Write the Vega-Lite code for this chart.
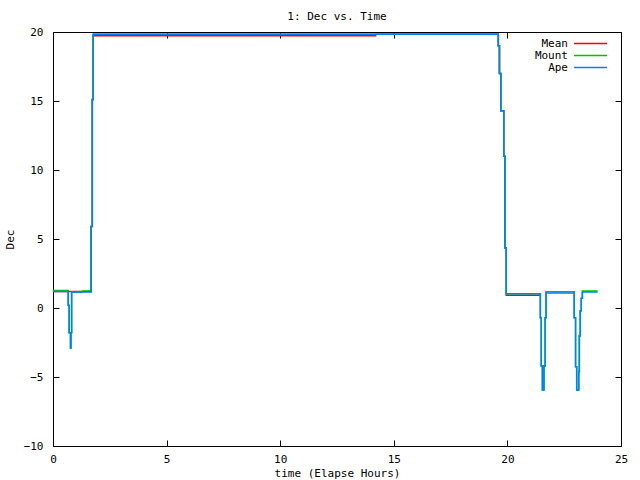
{
  "$schema": "https://vega.github.io/schema/vega-lite/v6.json",
  "width": 568,
  "height": 414,
  "autosize": {"type": "none"},
  "padding": {"left": 53, "top": 32, "right": 19, "bottom": 34},
  "background": "white",
  "title": {"text": "1: Dec vs. Time", "font": "DejaVu Sans Mono", "fontSize": 11, "fontWeight": "normal", "offset": 4, "color": "black"},
  "config": {
    "view": {"stroke": null},
    "axis": {"grid": false, "domainColor": "black", "domainWidth": 1, "tickColor": "black", "tickSize": -6, "labelFont": "DejaVu Sans Mono", "labelFontSize": 11, "labelColor": "black", "titleFont": "DejaVu Sans Mono", "titleFontSize": 11, "titleFontWeight": "normal", "titleColor": "black", "labelFlush": false, "labelOverlap": false}
  },
  "data": {
    "values": [
      {"series": "Mean", "t": 0, "dec": 1.19},
      {"series": "Mean", "t": 1.68, "dec": 5.9},
      {"series": "Mean", "t": 1.73, "dec": 15.1},
      {"series": "Mean", "t": 1.77, "dec": 19.72},
      {"series": "Mean", "t": 14.2, "dec": 19.83},
      {"series": "Mean", "t": 19.6, "dec": 19.0},
      {"series": "Mean", "t": 19.65, "dec": 17.0},
      {"series": "Mean", "t": 19.71, "dec": 14.3},
      {"series": "Mean", "t": 19.84, "dec": 11.0},
      {"series": "Mean", "t": 19.89, "dec": 4.35},
      {"series": "Mean", "t": 19.95, "dec": 0.93},
      {"series": "Mean", "t": 21.45, "dec": 0.93},
      {"series": "Mount", "t": 0, "dec": 1.27},
      {"series": "Mount", "t": 0.67, "dec": 0.2},
      {"series": "Mount", "t": 0.71, "dec": -1.8},
      {"series": "Mount", "t": 0.77, "dec": -2.9},
      {"series": "Mount", "t": 0.79, "dec": -1.8},
      {"series": "Mount", "t": 0.82, "dec": 1.16},
      {"series": "Mount", "t": 1.29, "dec": 1.24},
      {"series": "Mount", "t": 1.68, "dec": 5.9},
      {"series": "Mount", "t": 1.73, "dec": 15.1},
      {"series": "Mount", "t": 1.77, "dec": 19.83},
      {"series": "Mount", "t": 19.6, "dec": 19.0},
      {"series": "Mount", "t": 19.65, "dec": 17.0},
      {"series": "Mount", "t": 19.71, "dec": 14.3},
      {"series": "Mount", "t": 19.84, "dec": 11.0},
      {"series": "Mount", "t": 19.89, "dec": 4.35},
      {"series": "Mount", "t": 19.95, "dec": 1.04},
      {"series": "Mount", "t": 21.45, "dec": -0.7},
      {"series": "Mount", "t": 21.49, "dec": -4.2},
      {"series": "Mount", "t": 21.54, "dec": -5.94},
      {"series": "Mount", "t": 21.61, "dec": -4.2},
      {"series": "Mount", "t": 21.66, "dec": -0.7},
      {"series": "Mount", "t": 21.7, "dec": 1.17},
      {"series": "Mount", "t": 22.94, "dec": -0.7},
      {"series": "Mount", "t": 23.0, "dec": -4.25},
      {"series": "Mount", "t": 23.05, "dec": -5.94},
      {"series": "Mount", "t": 23.14, "dec": -4.6},
      {"series": "Mount", "t": 23.16, "dec": -2.0},
      {"series": "Mount", "t": 23.2, "dec": -0.2},
      {"series": "Mount", "t": 23.25, "dec": 0.7},
      {"series": "Mount", "t": 23.3, "dec": 1.24},
      {"series": "Mount", "t": 23.97, "dec": 1.24},
      {"series": "Ape", "t": 0, "dec": 1.19},
      {"series": "Ape", "t": 0.67, "dec": 0.2},
      {"series": "Ape", "t": 0.71, "dec": -1.8},
      {"series": "Ape", "t": 0.77, "dec": -2.9},
      {"series": "Ape", "t": 0.79, "dec": -1.8},
      {"series": "Ape", "t": 0.82, "dec": 1.16},
      {"series": "Ape", "t": 1.29, "dec": 1.16},
      {"series": "Ape", "t": 1.68, "dec": 5.9},
      {"series": "Ape", "t": 1.73, "dec": 15.1},
      {"series": "Ape", "t": 1.77, "dec": 19.83},
      {"series": "Ape", "t": 19.6, "dec": 19.0},
      {"series": "Ape", "t": 19.65, "dec": 17.0},
      {"series": "Ape", "t": 19.71, "dec": 14.3},
      {"series": "Ape", "t": 19.84, "dec": 11.0},
      {"series": "Ape", "t": 19.89, "dec": 4.35},
      {"series": "Ape", "t": 19.95, "dec": 1.04},
      {"series": "Ape", "t": 21.45, "dec": -0.7},
      {"series": "Ape", "t": 21.49, "dec": -4.2},
      {"series": "Ape", "t": 21.54, "dec": -5.94},
      {"series": "Ape", "t": 21.61, "dec": -4.2},
      {"series": "Ape", "t": 21.66, "dec": -0.7},
      {"series": "Ape", "t": 21.7, "dec": 1.09},
      {"series": "Ape", "t": 22.94, "dec": -0.7},
      {"series": "Ape", "t": 23.0, "dec": -4.25},
      {"series": "Ape", "t": 23.05, "dec": -5.94},
      {"series": "Ape", "t": 23.14, "dec": -4.6},
      {"series": "Ape", "t": 23.17, "dec": -2.03},
      {"series": "Ape", "t": 23.21, "dec": -0.2},
      {"series": "Ape", "t": 23.25, "dec": 0.7},
      {"series": "Ape", "t": 23.3, "dec": 1.16},
      {"series": "Ape", "t": 23.97, "dec": 1.16}
    ]
  },
  "layer": [
    {
      "transform": [{"filter": "datum.series === 'Mean'"}],
      "mark": {"type": "line", "interpolate": "step-after", "strokeWidth": 1.5},
      "encoding": {
        "x": {"field": "t", "type": "quantitative", "scale": {"domain": [0, 25], "nice": false, "zero": false},
              "axis": {"orient": "bottom", "title": "time (Elapse Hours)", "values": [0, 5, 10, 15, 20, 25], "labelPadding": 13, "titlePadding": 3}},
        "y": {"field": "dec", "type": "quantitative", "scale": {"domain": [-10, 20], "nice": false, "zero": false},
              "axis": {"orient": "left", "title": "Dec", "values": [-10, -5, 0, 5, 10, 15, 20], "labelPadding": 16, "titlePadding": 8}},
        "color": {"field": "series", "type": "nominal",
                  "scale": {"domain": ["Mean", "Mount", "Ape"], "range": ["#ff0000", "#00c000", "#0080ff"]},
                  "legend": {"orient": "none", "legendX": 531, "legendY": 5, "title": null, "padding": 0, "rowPadding": -2,
                             "symbolType": "M-3,0H3", "symbolSize": 121, "symbolStrokeWidth": 1.5,
                             "labelAlign": "right", "labelOffset": -29, "labelFont": "DejaVu Sans Mono", "labelFontSize": 11, "labelColor": "black"}}
      }
    },
    {
      "transform": [{"filter": "datum.series === 'Mount'"}],
      "mark": {"type": "line", "interpolate": "step-after", "strokeWidth": 1.5},
      "encoding": {
        "x": {"field": "t", "type": "quantitative", "axis": null},
        "y": {"field": "dec", "type": "quantitative", "axis": null},
        "color": {"field": "series", "type": "nominal"}
      }
    },
    {
      "transform": [{"filter": "datum.series === 'Ape'"}],
      "mark": {"type": "line", "interpolate": "step-after", "strokeWidth": 1.5},
      "encoding": {
        "x": {"field": "t", "type": "quantitative", "axis": null},
        "y": {"field": "dec", "type": "quantitative", "axis": null},
        "color": {"field": "series", "type": "nominal"}
      }
    },
    {
      "mark": {"type": "line", "opacity": 0},
      "encoding": {
        "x": {"field": "t", "type": "quantitative", "axis": {"orient": "top", "title": null, "labels": false, "values": [0, 5, 10, 15, 20, 25]}},
        "y": {"field": "dec", "type": "quantitative", "axis": {"orient": "right", "title": null, "labels": false, "values": [-10, -5, 0, 5, 10, 15, 20]}}
      }
    }
  ],
  "resolve": {"axis": {"x": "independent", "y": "independent"}}
}
